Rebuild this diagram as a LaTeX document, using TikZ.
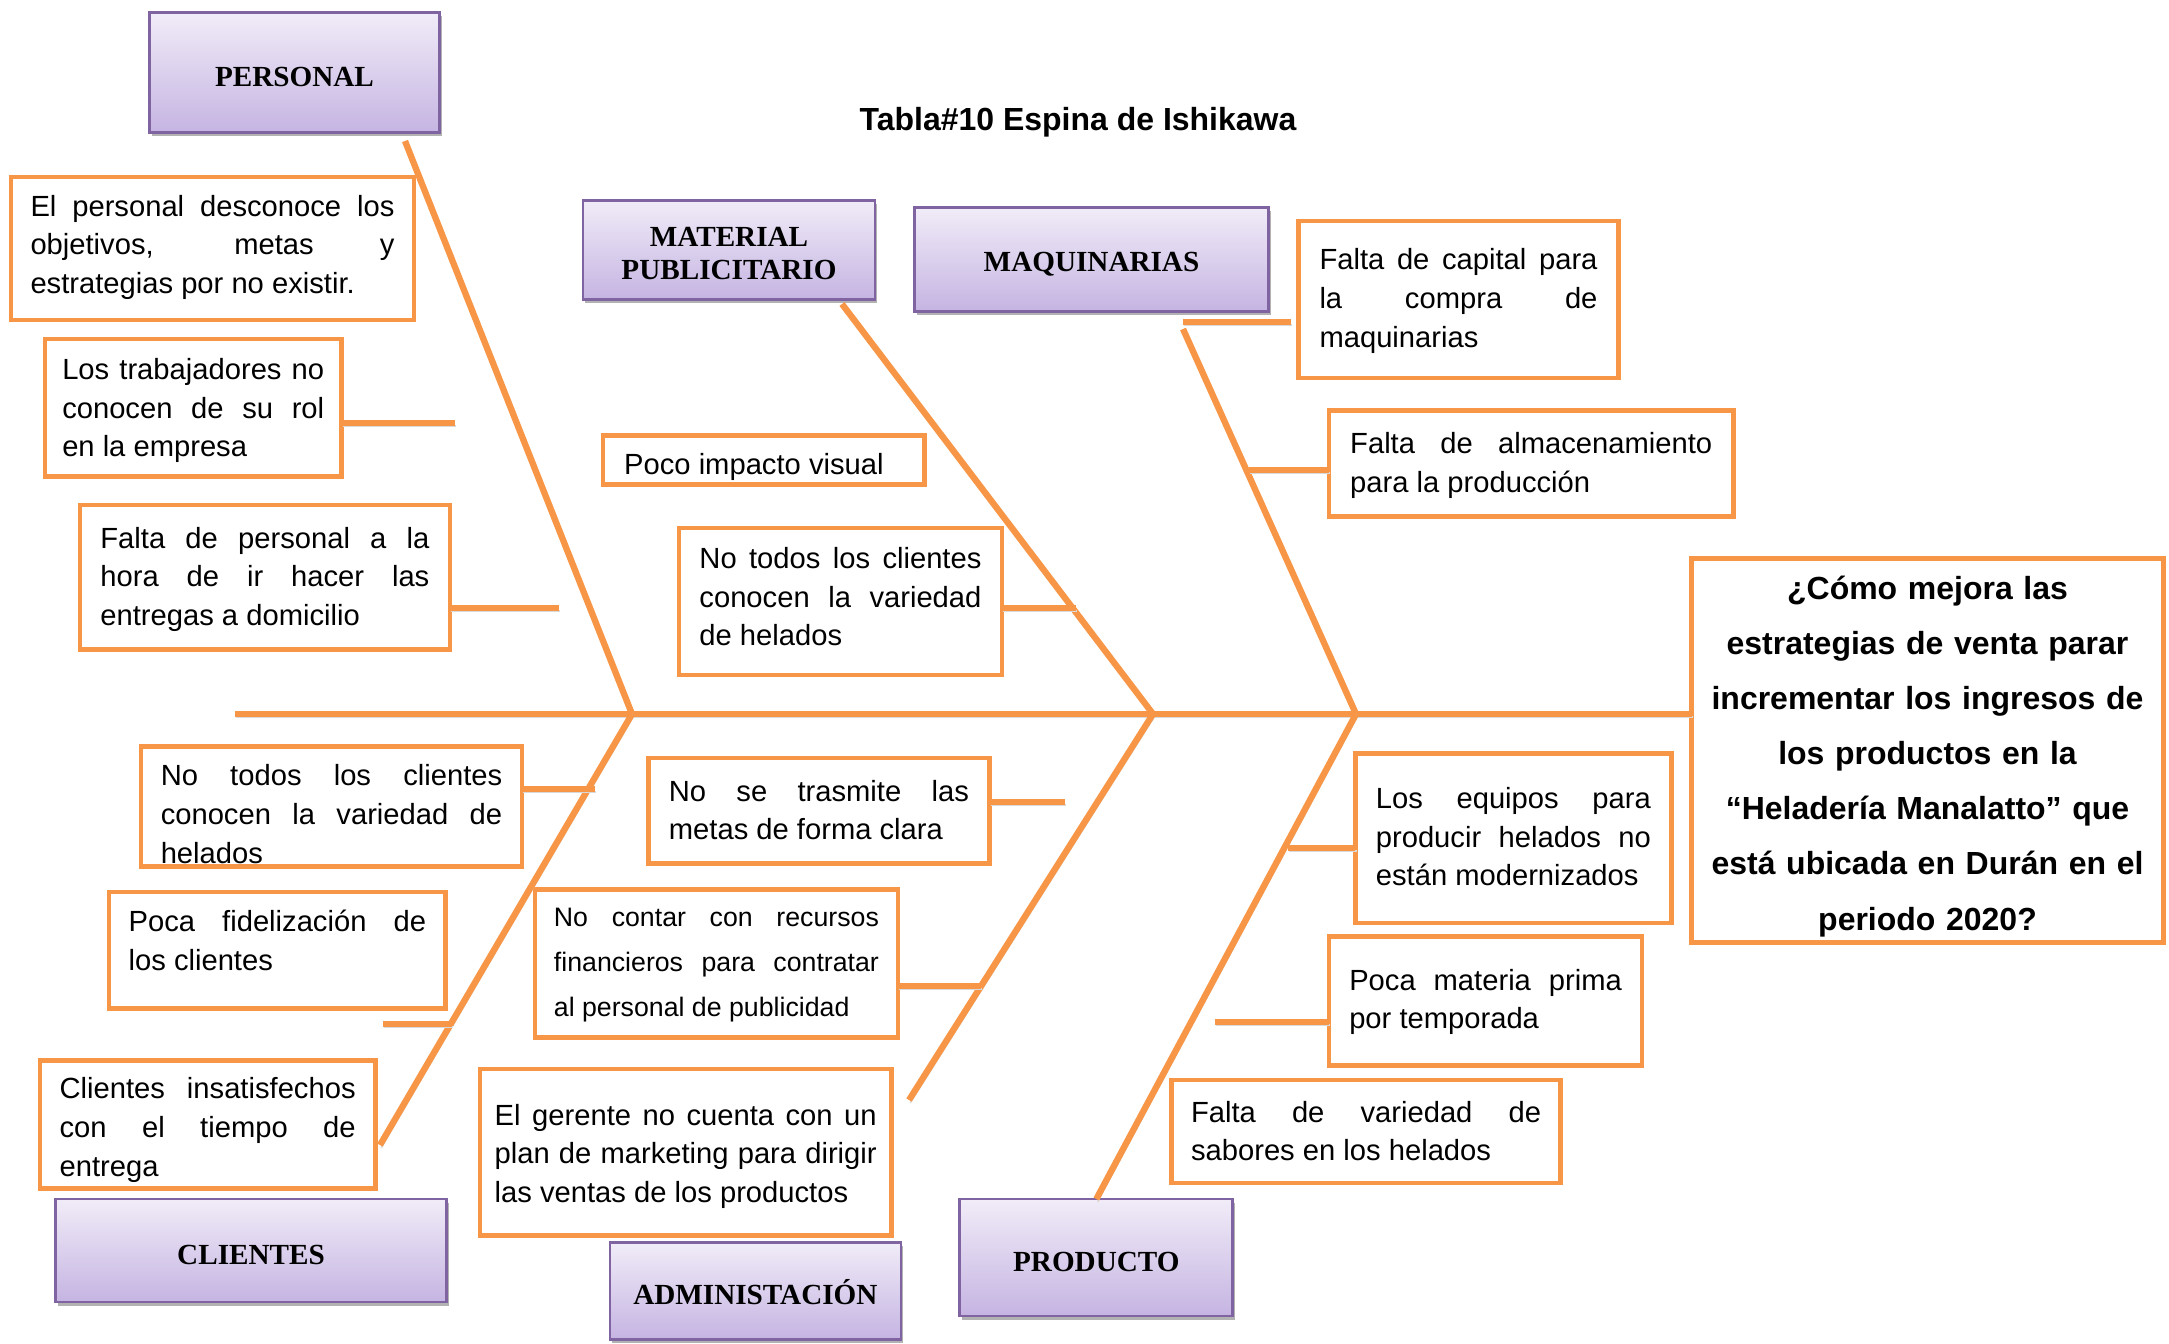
\documentclass[tikz,border=0pt]{standalone}
\usepackage{fontspec}
\setmainfont{Liberation Sans}
\newfontfamily\catfont{Liberation Serif}
\usetikzlibrary{shadows}
\definecolor{fish}{RGB}{247,150,70}
\definecolor{lilac}{RGB}{128,100,162}
\definecolor{lilactop}{RGB}{241,236,248}
\definecolor{lilacbot}{RGB}{197,180,226}
\tolerance=10000
\hbadness=10000
\hyphenpenalty=10000
\tikzset{
  every picture/.style={x=0.1mm, y=-0.1mm, font=\fontsize{8.3}{11}\selectfont},
  cause/.style={draw=fish, line width=1.3pt, fill=white, anchor=north west, align=justify, inner sep=0pt, outer sep=0pt},
  cat/.style={draw=lilac, line width=0.8pt, top color=lilactop, bottom color=lilacbot, align=center, outer sep=0pt,
    text height=2.75mm, font=\catfont\bfseries\fontsize{8.3}{9.4}\selectfont,
    drop shadow={shadow xshift=0.2mm, shadow yshift=-0.35mm, fill=black, opacity=0.3}},
  bone/.style={draw=fish, line width=1.8pt, preaction={draw=black!15, transform canvas={xshift=0.12mm, yshift=-0.3mm}}},
  ttl/.style={font=\bfseries\fontsize{9.1}{11}\selectfont},
}

\begin{document}
\begin{tikzpicture}
  \useasboundingbox (0,0) rectangle (2169,1343);
  % Ishikawa: six categories round one spine, the question at the head
  \node[ttl] (title) at (1078,122) {Tabla\#10 Espina de Ishikawa};

  \node[cat, minimum width=29mm, minimum height=12mm] (pers) at (294.5,72.5) {PERSONAL};
  \node[cat, text height=6.05mm, minimum width=29.2mm, minimum height=9.9mm] (matp) at (729,249.7) {MATERIAL\\PUBLICITARIO};
  \node[cat, text height=2.95mm, minimum width=35.4mm, minimum height=10.4mm] (maqu) at (1091.5,259.3) {MAQUINARIAS};
  \node[cat, minimum width=39.1mm, minimum height=10.3mm] (clie) at (251,1250.5) {CLIENTES};
  \node[cat, minimum width=29.1mm, minimum height=9.7mm] (admi) at (755.4,1290.7) {ADMINISTACIÓN};
  \node[cat, minimum width=27.3mm, minimum height=11.7mm] (prod) at (1096.3,1257.5) {PRODUCTO};

  % causes, upper half
  \node[cause, minimum width=40.3mm, text width=36.4mm, text height=3.9mm, text depth=10.4mm] (desc) at (11,177) {El personal desconoce los\linebreak objetivos, metas y\linebreak estrategias por no existir.};
  \node[cause, minimum width=29.65mm, text width=26.2mm, text height=4.05mm, text depth=9.7mm] (trab) at (45,339) {Los trabajadores no\linebreak conocen de su rol\linebreak en la empresa};
  \node[cause, minimum width=36.98mm, text width=32.9mm, text height=4.32mm, text depth=10.12mm] (entr) at (80,505) {Falta de personal a la\linebreak hora de ir hacer las\linebreak entregas a domicilio};
  \node[cause, minimum width=32.14mm, text width=27.9mm, text height=3.85mm, text depth=1.05mm] (impa) at (603,435.5) {Poco impacto visual};
  \node[cause, minimum width=32.29mm, text width=28.2mm, text height=4.05mm, text depth=10.66mm] (vari) at (679,528) {No todos los clientes\linebreak conocen la variedad\linebreak de helados};
  \node[cause, minimum width=32mm, text width=27.8mm, text height=4.87mm, text depth=10.81mm] (cap) at (1298.5,221) {Falta de capital para\linebreak la compra de\linebreak maquinarias};
  \node[cause, minimum width=40.44mm, text width=36.2mm, text height=4.33mm, text depth=6.24mm] (alm) at (1329,410.5) {Falta de almacenamiento\linebreak para la producción};

  % the effect
  \node[cause, align=center, font=\bfseries\fontsize{9.1}{15.7}\selectfont, minimum width=47.2mm, text width=45mm, text height=4.05mm, text depth=34.35mm] (q) at (1691.5,558.5) {¿Cómo mejora las\\ estrategias de venta parar\\ incrementar los ingresos de\\ los productos en la\\ “Heladería Manalatto” que\\ está ubicada en Durán en el\\ periodo 2020?};

  % causes, lower half
  \node[cause, minimum width=38.1mm, text width=34.15mm, text height=3.9mm, text depth=8.05mm] (cono) at (141,746.7) {No todos los clientes\linebreak conocen la variedad de\linebreak helados};
  \node[cause, minimum width=33.67mm, text width=29.74mm, text height=3.95mm, text depth=7.72mm] (fide) at (109,892) {Poca fidelización de\linebreak los clientes};
  \node[cause, minimum width=33.53mm, text width=29.6mm, text height=3.8mm, text depth=8.98mm] (insa) at (40,1060.7) {Clientes insatisfechos\linebreak con el tiempo de\linebreak entrega};
  \node[cause, minimum width=34.08mm, text width=30mm, text height=4.35mm, text depth=6.22mm] (meta) at (648.5,757.8) {No se trasmite las\linebreak metas de forma clara};
  \node[cause, font=\fontsize{7.6}{12.8}\selectfont, minimum width=36.29mm, text width=32.5mm, text height=3.7mm, text depth=11.15mm] (recu) at (535,889.2) {No contar con recursos\linebreak financieros para contratar\linebreak al personal de publicidad};
  \node[cause, minimum width=41.14mm, text width=38.2mm, text height=5.6mm, text depth=11.05mm] (gere) at (480,1069) {El gerente no cuenta con un\linebreak plan de marketing para dirigir\linebreak las ventas de los productos};
  \node[cause, minimum width=31.59mm, text width=27.5mm, text height=5.5mm, text depth=11.43mm] (equi) at (1355.4,753.6) {Los equipos para\linebreak producir helados no\linebreak están modernizados};
  \node[cause, minimum width=31.31mm, text width=27.26mm, text height=5.4mm, text depth=7.53mm] (mpri) at (1329,936.2) {Poca materia prima\linebreak por temporada};
  \node[cause, minimum width=38.93mm, text width=35mm, text height=4.2mm, text depth=6.09mm] (sabo) at (1171.4,1080.1) {Falta de variedad de\linebreak sabores en los helados};

  % spine and bones
  \coordinate (tail) at (235,714);
  \coordinate (jp) at (632,714);
  \coordinate (jm) at (1153,714);
  \coordinate (jq) at (1356,714);
  \coordinate (bp) at (405,141);
  \coordinate (bm) at (842,304);
  \coordinate (bq) at (1183,329);
  \coordinate (bc) at (380,1145);
  \coordinate (ba) at (909,1100);
  \draw[bone] (tail) -- (tail -| q.west);
  \draw[bone] (bp) -- (jp);
  \draw[bone] (jp) -- (bc);
  \draw[bone] (bm) -- (jm);
  \draw[bone] (jm) -- (ba);
  \draw[bone] (bq) -- (jq);
  \draw[bone] (jq) -- (prod.north);

  % short ribs to the causes
  \coordinate (t1) at (455,423);
  \coordinate (t2) at (559,608);
  \coordinate (t3) at (1076,608);
  \coordinate (t4) at (1291,322);
  \coordinate (t5) at (1249,470);
  \coordinate (t6) at (595,789);
  \coordinate (t7a) at (383,1024);
  \coordinate (t7b) at (452,1024);
  \coordinate (t8) at (1065,802);
  \coordinate (t9) at (981,986);
  \coordinate (t10) at (1288,848);
  \coordinate (t11) at (1215,1022);
  \draw[bone] (t1 -| trab.east) -- (t1);
  \draw[bone] (t2 -| entr.east) -- (t2);
  \draw[bone] (t3 -| vari.east) -- (t3);
  \draw[bone] (t4 -| bq) -- (t4);
  \draw[bone] (t5) -- (t5 -| alm.west);
  \draw[bone] (t6 -| cono.east) -- (t6);
  \draw[bone] (t7a) -- (t7b);
  \draw[bone] (t8 -| meta.east) -- (t8);
  \draw[bone] (t9 -| recu.east) -- (t9);
  \draw[bone] (t10) -- (t10 -| equi.west);
  \draw[bone] (t11) -- (t11 -| mpri.west);
\end{tikzpicture}
\end{document}
